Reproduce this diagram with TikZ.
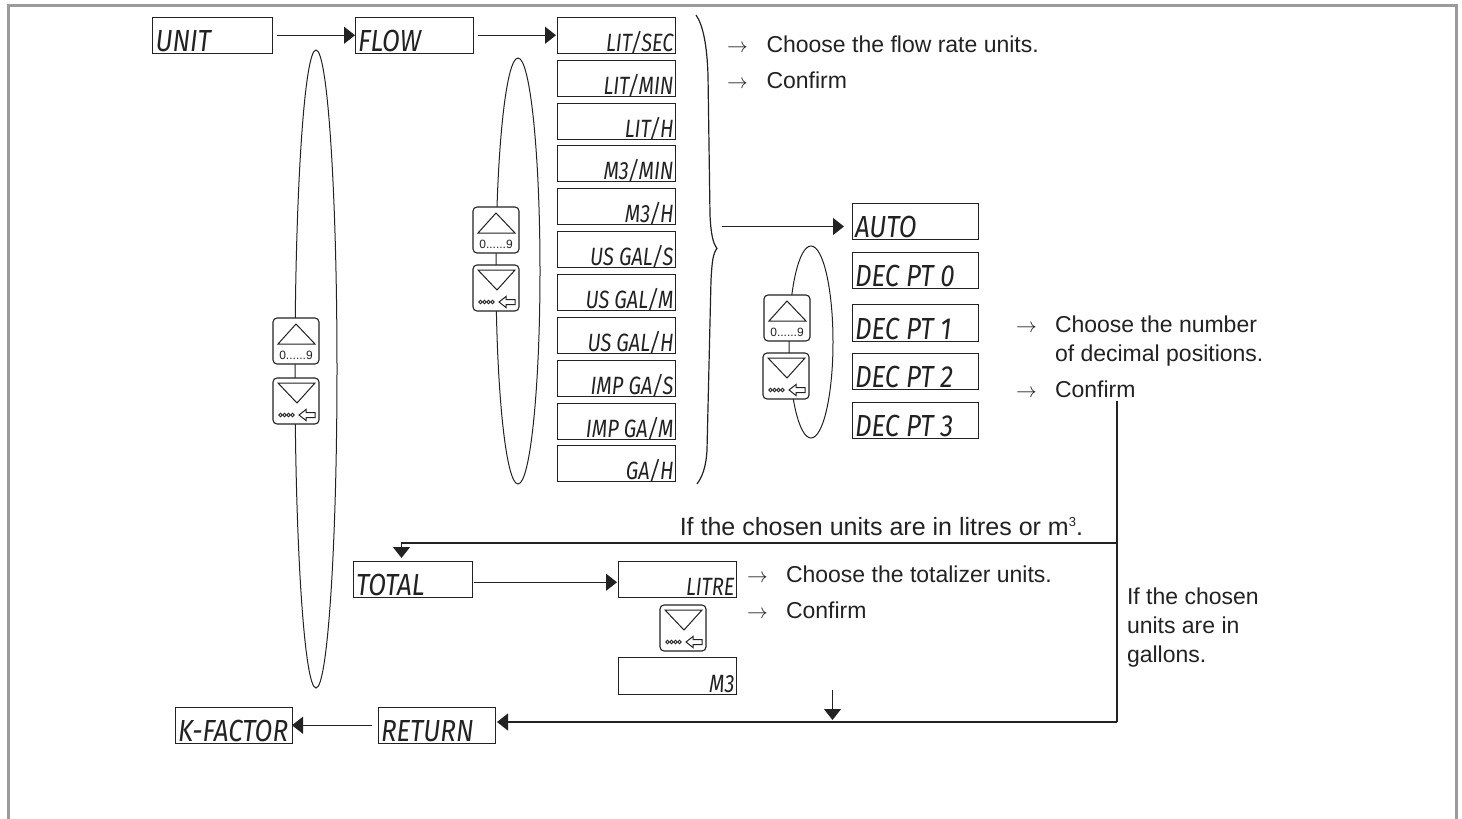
\documentclass[tikz,border=0pt]{standalone}
\usepackage{fontspec}
\setmainfont{Liberation Sans}
\newfontfamily\lcdf{Fira Sans Italic}
\usetikzlibrary{shapes.geometric,arrows.meta}
\definecolor{ink}{HTML}{222222}
\definecolor{framegray}{HTML}{9B9B9B}
\tikzset{
  lcd/.style={draw=ink,line width=1pt,fill=white,inner sep=0pt,outer sep=0pt,anchor=north west,minimum height=36.5pt,text=ink},
  loop/.style={draw=ink,line width=1pt,ellipse,inner sep=0pt,outer sep=0pt},
  btn/.style={draw=ink,line width=1.1pt,fill=white,rounded corners=4pt,inner sep=0pt,outer sep=0pt,anchor=north west,minimum width=46pt,minimum height=46pt},
  conn/.style={draw=ink,line width=1.1pt,-{Triangle[length=11pt,width=17pt]}},
  plain/.style={draw=ink,line width=1.1pt},
  txt/.style={anchor=base west,inner sep=0pt,outer sep=0pt,text=ink,font=\fontsize{23}{27}\selectfont},
  arr/.style={anchor=base west,inner sep=0pt,outer sep=0pt,text=ink,font=\fontsize{21}{24}\selectfont},
  keytxt/.style={inner sep=0pt,outer sep=0pt,text=ink}
}
\newcommand\lcdL[5]{\node[lcd,minimum width=#4pt] (#1) at (#2,#3) {\makebox[\dimexpr#4pt-6pt\relax][l]{\raisebox{-16.5pt}[0pt][0pt]{\scalebox{1.08}[1.27]{\fontsize{24}{24}\lcdf #5}}}};}
\newcommand\lcdR[5]{\node[lcd,minimum width=#4pt] (#1) at (#2,#3) {\makebox[\dimexpr#4pt-3pt\relax][r]{\raisebox{-16.5pt}[0pt][0pt]{\scalebox{1.0}[1.25]{\fontsize{20}{20}\lcdf #5}}}};}
\newcommand\upkey[3]{\begin{scope}[shift={(#2,#3)}]
  \node[btn] (#1) at (0,0) {};
  \draw[ink,line width=1pt,line join=miter] (5,26) -- (23,6) -- (42,26) -- cycle;
  \node[keytxt,font=\fontsize{12}{12}\selectfont] (#1t) at (23,37) {0......9};
\end{scope}}
\newcommand\downkey[3]{\begin{scope}[shift={(#2,#3)}]
  \node[btn] (#1) at (0,0) {};
  \draw[ink,line width=1pt] (5,5) -- (42,5) -- (24,25) -- cycle;
  \foreach \d in {7.5,11.5,15.5,19.5} \draw[ink,line width=.8pt] (\d,37) circle (1.8);
  \draw[ink,line width=1pt] (26,37) -- (33,31.5) -- (33,34.5) -- (42,34.5) -- (42,39.5) -- (33,39.5) -- (33,42.5) -- cycle;
\end{scope}}
\begin{document}
\begin{tikzpicture}[x=1pt,y=-1pt]
\useasboundingbox (0,0) rectangle (1462,819);
\draw[framegray,line width=3pt] (8.5,819) -- (8.5,5.5) -- (1456.5,5.5) -- (1456.5,819);

% selection loops
\node[loop,minimum width=42pt,minimum height=638pt] (loopA) at (316,369) {};
\node[loop,minimum width=44pt,minimum height=426pt] (loopB) at (518,271) {};
\node[loop,minimum width=44pt,minimum height=192pt] (loopC) at (811,342) {};

% keys
\upkey{ka}{273}{318}\downkey{kb}{273}{378}
\upkey{kc}{473}{207}\downkey{kd}{473}{265}
\upkey{ke}{764}{295}\downkey{kf}{763}{353}
\downkey{kg}{660}{605}

% displays
\lcdL{unit}{152.5}{17}{120}{UNIT}
\lcdL{flow}{355}{17}{118}{FLOW}
\lcdR{r1}{557}{17}{118}{LIT/SEC}
\lcdR{r2}{557}{60}{118}{LIT/MIN}
\lcdR{r3}{557}{103}{118}{LIT/H}
\lcdR{r4}{557}{145}{118}{M3/MIN}
\lcdR{r5}{557}{188}{118}{M3/H}
\lcdR{r6}{557}{231}{118}{US GAL/S}
\lcdR{r7}{557}{274}{118}{US GAL/M}
\lcdR{r8}{557}{317}{118}{US GAL/H}
\lcdR{r9}{557}{360}{118}{IMP GA/S}
\lcdR{r10}{557}{403}{118}{IMP GA/M}
\lcdR{r11}{557}{445}{118}{GA/H}
\lcdL{auto}{852}{203}{126}{AUTO}
\lcdL{dec0}{852}{252}{126}{DEC PT 0}
\lcdL{dec1}{852}{304.5}{126}{DEC PT 1}
\lcdL{dec2}{852}{353}{126}{DEC PT 2}
\lcdL{dec3}{852}{402}{126}{DEC PT 3}
\lcdL{total}{353}{561}{119}{TOTAL}
\lcdR{litre}{618}{561}{118}{LITRE}
\lcdR{m3}{618}{657.5}{118}{M3}
\lcdL{ret}{378}{707}{117}{RETURN}
\lcdL{kfac}{175}{707}{117}{K-FACTOR}

% brace
\draw[ink,line width=1.2pt] (696,15) .. controls (703,25) and (707,45) .. (708,75)
  -- (710,215) .. controls (711,235) and (713,243) .. (717,248.5)
  .. controls (713,253) and (712,262) .. (711,280)
  -- (707,450) .. controls (706,468) and (702,477) .. (697,484);

% connectors
\coordinate (braceout) at (722,226.5);
\coordinate (confirmend) at (1117,401);
\coordinate (branch) at (1117,543);
\coordinate (corner) at (1117,722);
\coordinate (downa) at (832.5,690);
\coordinate (downb) at (832.5,720);
\draw[conn,shorten <=4pt] (unit.east) -- (flow.west);
\draw[conn,shorten <=5pt,shorten >=1pt] (flow.east) -- (r1.west);
\draw[conn,shorten >=8pt] (braceout) -- (auto.west |- braceout);
\draw[plain] (confirmend) -- (corner);
\draw[conn,shorten >=3pt] (branch) -| ([xshift=-11pt]total.north);
\draw[conn,shorten <=2pt,shorten >=1pt] ([yshift=-3pt]total.east) -- ([yshift=-3pt]litre.west);
\draw[conn,shorten >=2pt] (corner) -- (ret.east |- corner);
\draw[conn,shorten <=6pt,shorten >=0pt] (ret.west) -- (kfac.east);
\draw[conn] (downa) -- (downb);

% texts
\node[arr] (a1) at (727,52) {$\rightarrow$};
\node[txt] (t1) at (766.5,52) {Choose the flow rate units.};
\node[arr] (a2) at (727,88) {$\rightarrow$};
\node[txt] (t2) at (766.5,88) {Confirm};
\node[arr] (a3) at (1016,332) {$\rightarrow$};
\node[txt] (t3) at (1055,332) {Choose the number};
\node[txt] (t4) at (1055,361) {of decimal positions.};
\node[arr] (a4) at (1016,397) {$\rightarrow$};
\node[txt] (t5) at (1055,397) {Confirm};
\node[txt,anchor=base east,font=\fontsize{25}{28}\selectfont] (t6) at (1083,535) {If the chosen units are in litres or m\raisebox{9pt}{\fontsize{13}{13}\selectfont 3}.};
\node[arr] (a5) at (747,582) {$\rightarrow$};
\node[txt] (t7) at (786,582) {Choose the totalizer units.};
\node[arr] (a6) at (747,618) {$\rightarrow$};
\node[txt] (t8) at (786,618) {Confirm};
\node[txt] (t9) at (1127,604) {If the chosen};
\node[txt] (t10) at (1127,633) {units are in};
\node[txt] (t11) at (1127,662) {gallons.};
\end{tikzpicture}
\end{document}
